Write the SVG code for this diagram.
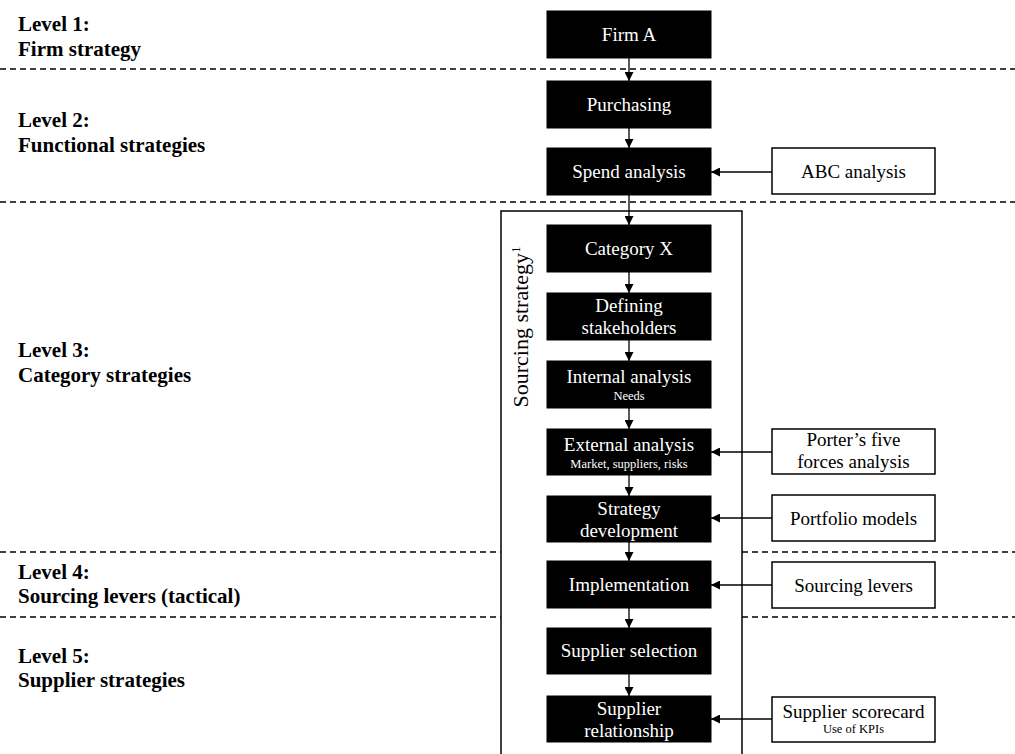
<svg xmlns="http://www.w3.org/2000/svg" width="1015" height="754" viewBox="0 0 1015 754" font-family="'Liberation Serif', 'DejaVu Serif', serif">
  <style>
    text { font-family: 'Liberation Serif', 'DejaVu Serif', serif; }
    .lvl { font-weight: bold; font-size: 21px; fill: #000; }
    .dash { stroke: #000; stroke-width: 1.4; stroke-dasharray: 6 4; fill: none; }
    .blk { fill: #000; stroke: #000; stroke-width: 1; }
    .wht { fill: #fff; stroke: #000; stroke-width: 1.5; }
    .bt { font-size: 19px; fill: #fff; text-anchor: middle; }
    .bs { font-size: 12.5px; fill: #fff; text-anchor: middle; }
    .wt { font-size: 19px; fill: #000; text-anchor: middle; }
    .ws { font-size: 12.5px; fill: #000; text-anchor: middle; }
    .conn { stroke: #000; stroke-width: 1.3; fill: none; marker-end: url(#arr); }
  </style>
  <defs>
    <marker id="arr" viewBox="0 0 10 10" refX="10" refY="5" markerWidth="9" markerHeight="9" markerUnits="userSpaceOnUse" orient="auto">
      <path d="M0,0 L10,5 L0,10 Z" fill="#000"/>
    </marker>
  </defs>
  <rect x="0" y="0" width="1015" height="754" fill="#fff"/>

  <!-- level separators -->
  <g id="separators">
    <line class="dash" x1="0" y1="69" x2="1015" y2="69"/>
    <line class="dash" x1="0" y1="202" x2="1015" y2="202"/>
    <line class="dash" x1="0" y1="552" x2="501" y2="552"/>
    <line class="dash" x1="742" y1="552" x2="1015" y2="552"/>
    <line class="dash" x1="0" y1="617" x2="501" y2="617"/>
    <line class="dash" x1="742" y1="617" x2="1015" y2="617"/>
  </g>

  <!-- level labels -->
  <g id="levels">
    <text class="lvl" x="18" y="31">Level 1:</text>
    <text class="lvl" x="18" y="56">Firm strategy</text>
    <text class="lvl" x="18" y="127">Level 2:</text>
    <text class="lvl" x="18" y="152">Functional strategies</text>
    <text class="lvl" x="18" y="357">Level 3:</text>
    <text class="lvl" x="18" y="382">Category strategies</text>
    <text class="lvl" x="18" y="579">Level 4:</text>
    <text class="lvl" x="18" y="603">Sourcing levers (tactical)</text>
    <text class="lvl" x="18" y="663">Level 5:</text>
    <text class="lvl" x="18" y="687">Supplier strategies</text>
  </g>

  <!-- sourcing strategy frame -->
  <g id="sourcing-strategy">
    <path d="M501,760 L501,211 L742,211 L742,760" fill="none" stroke="#000" stroke-width="1.5"/>
    <text transform="translate(528,327) rotate(-90)" font-size="22" fill="#000" text-anchor="middle">Sourcing strategy<tspan font-size="13" dy="-8">1</tspan></text>
  </g>

  <!-- connectors -->
  <g id="connectors">
    <line class="conn" x1="629" y1="58" x2="629" y2="81"/>
    <line class="conn" x1="629" y1="128" x2="629" y2="148"/>
    <line class="conn" x1="629" y1="195" x2="629" y2="225"/>
    <line class="conn" x1="629" y1="272" x2="629" y2="293"/>
    <line class="conn" x1="629" y1="340" x2="629" y2="361"/>
    <line class="conn" x1="629" y1="408" x2="629" y2="429"/>
    <line class="conn" x1="629" y1="475" x2="629" y2="496"/>
    <line class="conn" x1="629" y1="542" x2="629" y2="561"/>
    <line class="conn" x1="629" y1="608" x2="629" y2="628"/>
    <line class="conn" x1="629" y1="674" x2="629" y2="696"/>
    <line class="conn" x1="772" y1="172" x2="711" y2="172"/>
    <line class="conn" x1="772" y1="452" x2="711" y2="452"/>
    <line class="conn" x1="772" y1="518" x2="711" y2="518"/>
    <line class="conn" x1="772" y1="585" x2="711" y2="585"/>
    <line class="conn" x1="772" y1="719" x2="711" y2="719"/>
  </g>

  <!-- process steps -->
  <g id="firm-a">
    <rect class="blk" x="547" y="11" width="164" height="47"/>
    <text class="bt" x="629" y="41">Firm A</text>
  </g>
  <g id="purchasing">
    <rect class="blk" x="547" y="81" width="164" height="47"/>
    <text class="bt" x="629" y="111">Purchasing</text>
  </g>
  <g id="spend-analysis">
    <rect class="blk" x="547" y="148" width="164" height="47"/>
    <text class="bt" x="629" y="178">Spend analysis</text>
  </g>
  <g id="category-x">
    <rect class="blk" x="547" y="225" width="164" height="47"/>
    <text class="bt" x="629" y="255">Category X</text>
  </g>
  <g id="defining-stakeholders">
    <rect class="blk" x="547" y="293" width="164" height="47"/>
    <text class="bt" x="629" y="312">Defining</text>
    <text class="bt" x="629" y="334">stakeholders</text>
  </g>
  <g id="internal-analysis">
    <rect class="blk" x="547" y="361" width="164" height="47"/>
    <text class="bt" x="629" y="383">Internal analysis</text>
    <text class="bs" x="629" y="400">Needs</text>
  </g>
  <g id="external-analysis">
    <rect class="blk" x="547" y="429" width="164" height="46"/>
    <text class="bt" x="629" y="451">External analysis</text>
    <text class="bs" x="629" y="468">Market, suppliers, risks</text>
  </g>
  <g id="strategy-development">
    <rect class="blk" x="547" y="496" width="164" height="46"/>
    <text class="bt" x="629" y="515">Strategy</text>
    <text class="bt" x="629" y="537">development</text>
  </g>
  <g id="implementation">
    <rect class="blk" x="547" y="561" width="164" height="47"/>
    <text class="bt" x="629" y="591">Implementation</text>
  </g>
  <g id="supplier-selection">
    <rect class="blk" x="547" y="628" width="164" height="46"/>
    <text class="bt" x="629" y="657">Supplier selection</text>
  </g>
  <g id="supplier-relationship">
    <rect class="blk" x="547" y="696" width="164" height="46"/>
    <text class="bt" x="629" y="715">Supplier</text>
    <text class="bt" x="629" y="737">relationship</text>
  </g>

  <!-- tools -->
  <g id="abc-analysis">
    <rect class="wht" x="772" y="148" width="163" height="46"/>
    <text class="wt" x="853.5" y="178">ABC analysis</text>
  </g>
  <g id="porters-five-forces">
    <rect class="wht" x="772" y="429" width="163" height="45"/>
    <text class="wt" x="853.5" y="446">Porter’s five</text>
    <text class="wt" x="853.5" y="468">forces analysis</text>
  </g>
  <g id="portfolio-models">
    <rect class="wht" x="772" y="495" width="163" height="46"/>
    <text class="wt" x="853.5" y="525">Portfolio models</text>
  </g>
  <g id="sourcing-levers">
    <rect class="wht" x="772" y="562" width="163" height="46"/>
    <text class="wt" x="853.5" y="592">Sourcing levers</text>
  </g>
  <g id="supplier-scorecard">
    <rect class="wht" x="772" y="697" width="163" height="45"/>
    <text class="wt" x="853.5" y="718">Supplier scorecard</text>
    <text class="ws" x="853.5" y="733">Use of KPIs</text>
  </g>
</svg>
